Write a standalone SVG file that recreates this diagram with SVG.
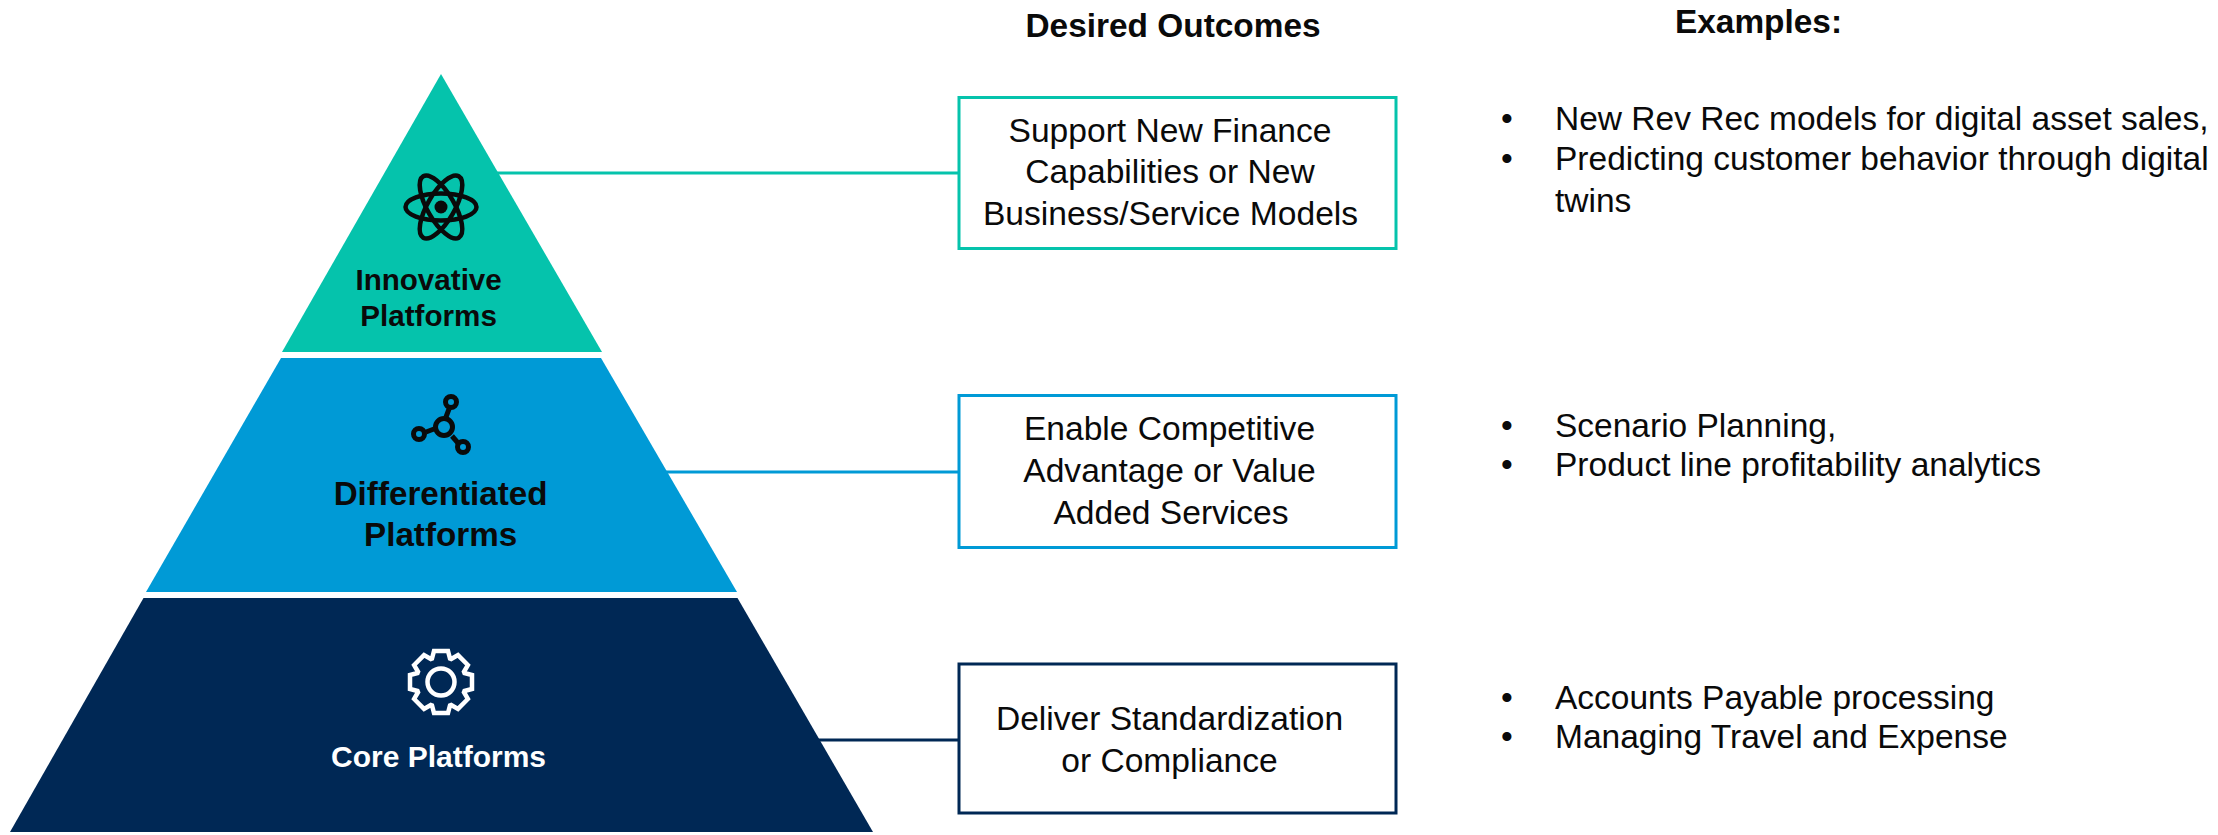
<svg xmlns="http://www.w3.org/2000/svg" width="2218" height="835" viewBox="0 0 2218 835">
<style>
text{font-family:"Liberation Sans",Arial,sans-serif;fill:#0a0a0a}
.h{font-size:33.4px;font-weight:700}
.b{font-size:33.6px;text-anchor:middle}
.e{font-size:33.5px}
.l{font-weight:700;text-anchor:middle}
.box{fill:#fff;stroke-width:3}
.c{stroke-width:3;fill:none}
.ic{fill:none;stroke:#0a0a0a}
</style>
<rect width="2218" height="835" fill="#fff"/>
<g id="connectors">
<line class="c" x1="495" y1="173" x2="959" y2="173" stroke="#05C3AC"/>
<line class="c" x1="665" y1="472" x2="959" y2="472" stroke="#009AD6"/>
<line class="c" x1="815" y1="740" x2="959" y2="740" stroke="#002855"/>
</g>
<g id="tier-innovative">
<polygon points="441,74 602,352 282,352" fill="#05C3AC"/>
<g class="ic" stroke-width="4.5" transform="translate(441,207)">
<ellipse rx="35.5" ry="13.5"/>
<ellipse rx="35.5" ry="13.5" transform="rotate(60)"/>
<ellipse rx="35.5" ry="13.5" transform="rotate(-60)"/>
<circle r="6.5" fill="#0a0a0a" stroke="none"/>
</g>
<text class="l" font-size="29.6" x="428.6" y="289.5">Innovative</text>
<text class="l" font-size="29.6" x="428.6" y="326">Platforms</text>
</g>
<g id="tier-differentiated">
<polygon points="281,358 601,358 737,592 146,592" fill="#009AD6"/>
<g class="ic" stroke-width="5">
<line x1="449" y1="409" x2="446" y2="417"/>
<line x1="426" y1="432" x2="434" y2="429"/>
<line x1="452" y1="436" x2="458" y2="443"/>
<circle cx="444" cy="427" r="8.5"/>
<circle cx="451" cy="402" r="5.5"/>
<circle cx="419" cy="434" r="5.5"/>
<circle cx="463" cy="447" r="5.5"/>
</g>
<text class="l" font-size="33.2" x="440.6" y="505">Differentiated</text>
<text class="l" font-size="33.2" x="440.6" y="545.5">Platforms</text>
</g>
<g id="tier-core">
<polygon points="143.5,598 737.5,598 873,832 10,832" fill="#002855"/>
<g fill="none" stroke="#fff" transform="translate(441,682)">
<polygon stroke-width="4.5" stroke-linejoin="miter" points="-9,-23.5 -7,-31 7,-31 9,-23.5 10.25,-22.98 16.97,-26.87 26.87,-16.97 22.98,-10.25 23.5,-9 31,-7 31,7 23.5,9 22.98,10.25 26.87,16.97 16.97,26.87 10.25,22.98 9,23.5 7,31 -7,31 -9,23.5 -10.25,22.98 -16.97,26.87 -26.87,16.97 -22.98,10.25 -23.5,9 -31,7 -31,-7 -23.5,-9 -22.98,-10.25 -26.87,-16.97 -16.97,-26.87 -10.25,-22.98"/>
<circle r="13.5" stroke-width="4.5"/>
</g>
<text class="l" font-size="30" x="438.5" y="766.5" style="fill:#fff">Core Platforms</text>
</g>
<g id="header-outcomes"><text class="h" x="1025.5" y="37">Desired Outcomes</text></g>
<g id="header-examples"><text class="h" x="1675" y="33">Examples:</text></g>
<g id="box-innovative">
<rect class="box" x="959" y="97.5" width="437" height="151" stroke="#05C3AC"/>
<text class="b" x="1170" y="142">Support New Finance</text>
<text class="b" x="1170" y="183">Capabilities or New</text>
<text class="b" x="1170.5" y="225">Business/Service Models</text>
</g>
<g id="box-differentiated">
<rect class="box" x="959" y="395.5" width="437" height="152" stroke="#009AD6"/>
<text class="b" x="1169.5" y="440">Enable Competitive</text>
<text class="b" x="1169.5" y="481.5">Advantage or Value</text>
<text class="b" x="1171" y="524">Added Services</text>
</g>
<g id="box-core">
<rect class="box" x="959" y="664" width="437" height="149" stroke="#002855"/>
<text class="b" x="1169.5" y="730">Deliver Standardization</text>
<text class="b" x="1169.5" y="771.5">or Compliance</text>
</g>
<g id="examples-innovative">
<text class="e" x="1501" y="129.5">•</text><text class="e" x="1555" y="129.5">New Rev Rec models for digital asset sales,</text>
<text class="e" x="1501" y="170">•</text><text class="e" x="1555" y="170">Predicting customer behavior through digital</text>
<text class="e" x="1555" y="211.5">twins</text>
</g>
<g id="examples-differentiated">
<text class="e" x="1501" y="436.5">•</text><text class="e" x="1555" y="436.5">Scenario Planning,</text>
<text class="e" x="1501" y="475.5">•</text><text class="e" x="1555" y="475.5">Product line profitability analytics</text>
</g>
<g id="examples-core">
<text class="e" x="1501" y="708.5">•</text><text class="e" x="1555" y="708.5">Accounts Payable processing</text>
<text class="e" x="1501" y="748">•</text><text class="e" x="1555" y="748">Managing Travel and Expense</text>
</g>
</svg>
